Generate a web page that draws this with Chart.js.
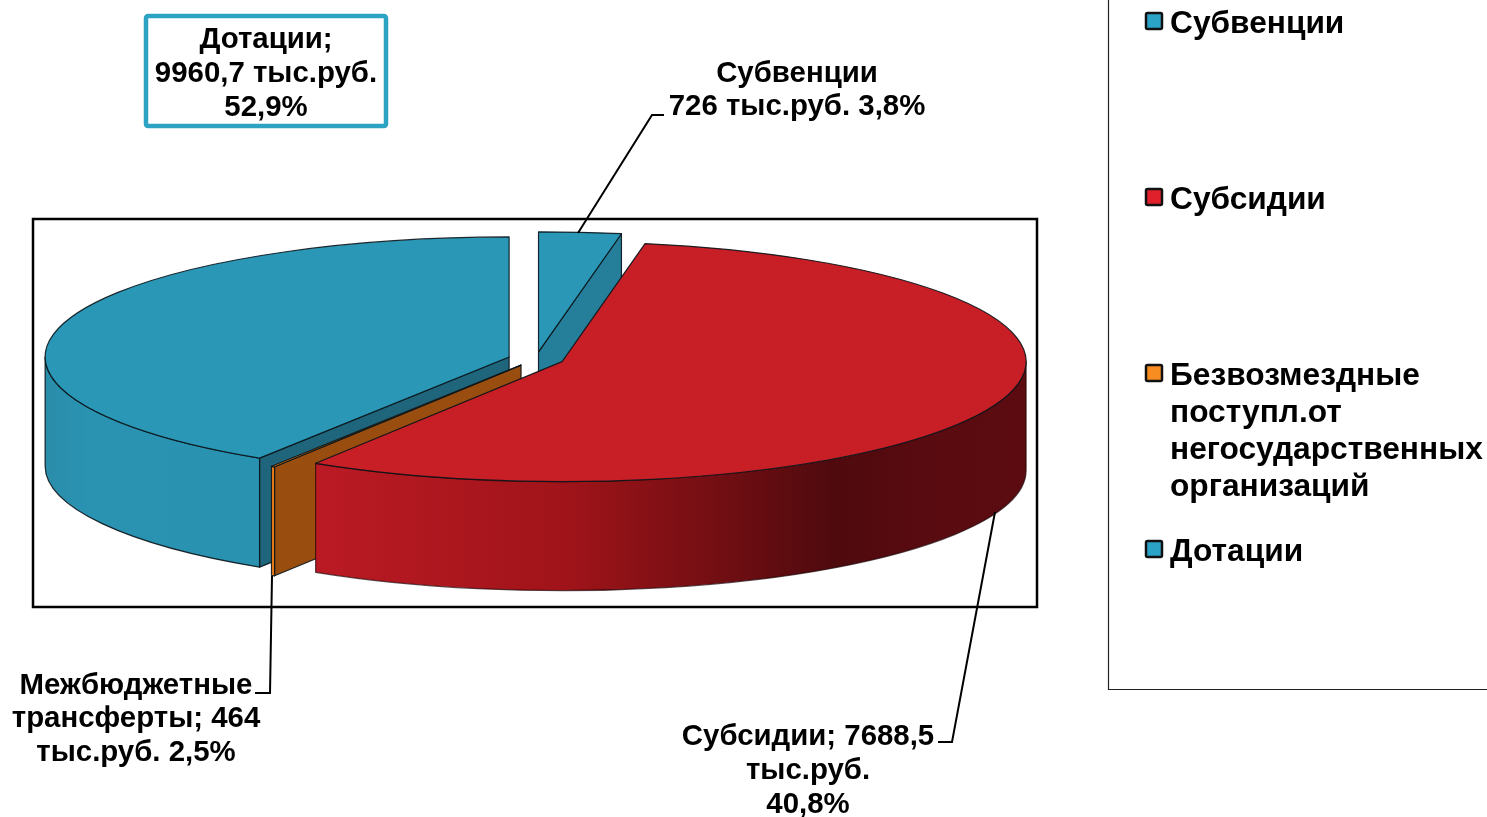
<!DOCTYPE html>
<html lang="ru">
<head>
<meta charset="utf-8">
<title>Безвозмездные поступления</title>
<style>
html,body{margin:0;padding:0;background:#fff;overflow:hidden}
canvas{display:block}
</style>
<script src="https://cdn.jsdelivr.net/npm/chart.js@4"></script>
</head>
<body>
<canvas id="c" width="1487" height="817"></canvas>
<script>
// Series order, clockwise from the top of the pie
const categories = ['Субвенции', 'Субсидии', 'Безвозмездные поступл.от негосударственных организаций', 'Дотации'];
const sliceShares = [2.86, 56.05, 0.125, 40.96];
const topColors = ['#2a97b6', '#c81e26', '#f08018', '#2a97b6'];
const legendColors = ['#2ba3c6', '#e0202b', '#f78c20', '#2ba3c6'];
const legendLines = [['Субвенции'], ['Субсидии'], ['Безвозмездные', 'поступл.от', 'негосударственных', 'организаций'], ['Дотации']];
const labelDotacii = ['Дотации;', '9960,7 тыс.руб.', '52,9%'];
const labelSubvencii = ['Субвенции', '726 тыс.руб. 3,8%'];
const labelTransfers = ['Межбюджетные', 'трансферты; 464', 'тыс.руб. 2,5%'];
const labelSubsidii = ['Субсидии; 7688,5', 'тыс.руб.', '40,8%'];

const FONT = 'bold 29.4px "Liberation Sans", Arial, sans-serif';
const LEGEND_FONT = 'bold 31.7px "Liberation Sans", Arial, sans-serif';
const CX = 536, CY = 359, RX = 464, RY = 120, DEPTH = 109, EXPLODE = 28;
const OUTLINE = 'rgba(10,20,25,0.9)';

// faces for the side walls: radial wall colour and outer-wall gradient stops (left to right)
const radialColors = ['#257f9a', '#7d1016', '#994e10', '#1f667c'];
const outerStops = [
  [[0, '#2a93b2'], [1, '#2a93b2']],
  [[0, '#bb1a24'], [0.35, '#a01419'], [0.73, '#4f0a0e'], [0.85, '#580b10'], [1, '#5c0c11']],
  [[0, '#f08018'], [1, '#f08018']],
  [[0, '#2a8daa'], [0.2, '#2a93b2'], [1, '#2a92b1']]
];

function scr(st, el, a, r) { // element-local angle -> screen point on the ellipse
  return [st.ox(el) + RX * r * Math.cos(a), st.oy(el) + RY * r * Math.sin(a)];
}

const pie3d = {
  id: 'pie3d',
  afterDatasetsUpdate(chart) {
    const arcs = chart.getDatasetMeta(0).data;
    const R = arcs[0].outerRadius;
    const x0 = (chart.chartArea.left + chart.chartArea.right) / 2;
    const y0 = (chart.chartArea.top + chart.chartArea.bottom) / 2;
    const sx = RX / R, sy = RY / R;
    arcs.forEach(el => {
      const mid = (el.startAngle + el.endAngle) / 2;
      el.x = x0 + Math.cos(mid) * EXPLODE / sx;
      el.y = y0 + Math.sin(mid) * EXPLODE / sx;
    });
    chart.$st = { x0, y0, sx, sy,
      ox: el => CX + (el.x - x0) * sx,
      oy: el => CY + (el.y - y0) * sy };
  },
  beforeDatasetsDraw(chart) {
    const ctx = chart.ctx, st = chart.$st;
    const arcs = chart.getDatasetMeta(0).data;
    // frame round the plot
    ctx.save();
    ctx.strokeStyle = '#000';
    ctx.lineWidth = 2.5;
    ctx.strokeRect(33, 219, 1004, 388);
    ctx.lineJoin = 'round';
    ctx.lineWidth = 1.2;
    const wall = (pts, fill) => {
      ctx.beginPath();
      pts.forEach((p, i) => i ? ctx.lineTo(p[0], p[1]) : ctx.moveTo(p[0], p[1]));
      ctx.closePath();
      ctx.fillStyle = fill;
      ctx.fill();
      ctx.strokeStyle = OUTLINE;
      ctx.stroke();
    };
    // painter order: back slices first, red slice last
    [0, 3, 2, 1].forEach(i => {
      const el = arcs[i];
      const ax = st.ox(el), ay = st.oy(el);
      [[el.startAngle, -1], [el.endAngle, 1]].forEach(([a, side]) => {
        const normalDown = Math.sin(a + side * Math.PI / 2);
        if (normalDown > 1e-3) {
          const p = scr(st, el, a, 1);
          wall([[ax, ay], p, [p[0], p[1] + DEPTH], [ax, ay + DEPTH]], radialColors[i]);
        }
      });
      const a0 = Math.max(el.startAngle, 0), a1 = Math.min(el.endAngle, Math.PI);
      if (a1 > a0) {
        const l = scr(st, el, a0, 1), r = scr(st, el, a1, 1);
        const xa = Math.min(l[0], r[0]), xb = Math.max(l[0], r[0]);
        const g = ctx.createLinearGradient(xa, 0, xb, 0);
        outerStops[i].forEach(s => g.addColorStop(s[0], s[1]));
        ctx.beginPath();
        ctx.ellipse(ax, ay, RX, RY, 0, a0, a1);
        ctx.ellipse(ax, ay + DEPTH, RX, RY, 0, a1, a0, true);
        ctx.closePath();
        ctx.fillStyle = g;
        ctx.fill();
        ctx.strokeStyle = i === 1 ? 'rgba(30,5,8,0.7)' : OUTLINE;
        ctx.stroke();
      }
    });
    ctx.restore();
    // squash the library's circular pie into the tilted ellipse
    ctx.save();
    ctx.translate(CX, CY);
    ctx.scale(st.sx, st.sy);
    ctx.translate(-st.x0, -st.y0);
  },
  afterDatasetsDraw(chart) {
    const ctx = chart.ctx, st = chart.$st;
    ctx.restore();
    const arcs = chart.getDatasetMeta(0).data;
    ctx.save();
    ctx.lineWidth = 1.2;
    ctx.lineJoin = 'round';
    ctx.strokeStyle = OUTLINE;
    [3, 0, 2, 1].forEach(i => {
      const el = arcs[i];
      const ax = st.ox(el), ay = st.oy(el);
      ctx.beginPath();
      ctx.moveTo(ax, ay);
      ctx.ellipse(ax, ay, RX, RY, 0, el.startAngle, el.endAngle);
      ctx.closePath();
      ctx.stroke();
    });
    ctx.restore();
  },
  afterDraw(chart) {
    const ctx = chart.ctx;
    ctx.save();
    // leader lines
    ctx.strokeStyle = '#000';
    ctx.lineWidth = 2;
    [[[578, 233], [652, 115], [664, 115]],
     [[272, 576], [270, 693], [255, 693]],
     [[995, 512], [952, 742], [938, 742]]].forEach(l => {
      ctx.beginPath();
      l.forEach((p, i) => i ? ctx.lineTo(p[0], p[1]) : ctx.moveTo(p[0], p[1]));
      ctx.stroke();
    });
    // boxed label
    ctx.strokeStyle = '#2da3c3';
    ctx.lineWidth = 4.5;
    ctx.beginPath();
    ctx.roundRect(146, 16, 240, 110, 2);
    ctx.stroke();
    // data labels
    ctx.fillStyle = '#000';
    ctx.font = FONT;
    ctx.textAlign = 'center';
    ctx.textBaseline = 'middle';
    const block = (lines, x, ys) => lines.forEach((t, i) => ctx.fillText(t, x, ys[i]));
    block(labelDotacii, 266, [40, 74, 108]);
    block(labelSubvencii, 797, [74, 107]);
    block(labelTransfers, 136, [686, 719, 753]);
    block(labelSubsidii, 808, [737, 771, 805]);
    // legend
    ctx.strokeStyle = '#222';
    ctx.lineWidth = 1.2;
    ctx.beginPath();
    ctx.moveTo(1108.5, 0);
    ctx.lineTo(1108.5, 689.5);
    ctx.lineTo(1487, 689.5);
    ctx.stroke();
    ctx.font = LEGEND_FONT;
    ctx.textAlign = 'left';
    const tops = [22, 198, 374, 550];
    legendLines.forEach((lines, i) => {
      ctx.fillStyle = legendColors[i];
      ctx.strokeStyle = '#111';
      ctx.lineWidth = 2.5;
      ctx.beginPath();
      ctx.roundRect(1146, tops[i] - 9, 16, 16, 1.5);
      ctx.fill();
      ctx.stroke();
      ctx.fillStyle = '#000';
      lines.forEach((t, j) => ctx.fillText(t, 1170, tops[i] + 2 + j * 37));
    });
    ctx.restore();
  }
};

new Chart(document.getElementById('c'), {
  type: 'pie',
  data: {
    labels: categories,
    datasets: [{
      data: sliceShares,
      backgroundColor: topColors,
      borderWidth: 0,
      clip: false
    }]
  },
  options: {
    responsive: false,
    animation: false,
    events: [],
    layout: { padding: 0 },
    plugins: { legend: { display: false }, tooltip: { enabled: false }, title: { display: false } }
  },
  plugins: [pie3d]
});
</script>
</body>
</html>
